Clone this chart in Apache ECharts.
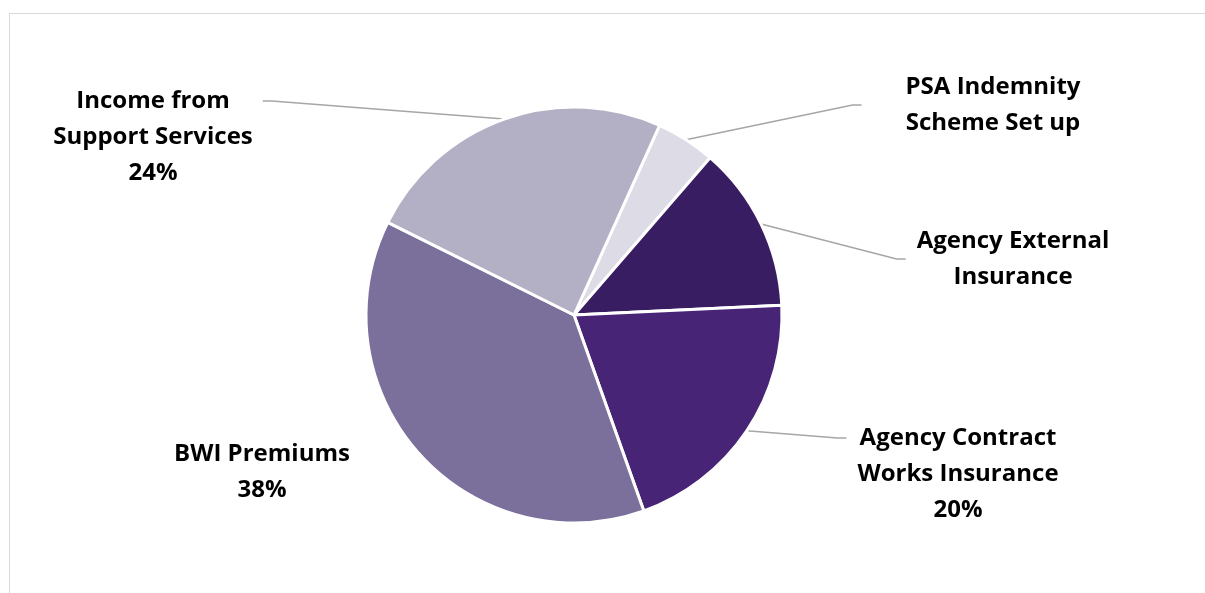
<!DOCTYPE html>
<html>
<head>
<meta charset="utf-8">
<script src="https://cdn.jsdelivr.net/npm/echarts@6/dist/echarts.min.js"></script>
<style>
  html, body { margin: 0; padding: 0; background: #fff; }
  #frame { position: absolute; left: 9px; top: 13px; width: 1196px; height: 580px;
           border-left: 1px solid #d9d9d9; border-top: 1px solid #d9d9d9; }
  #chart { position: absolute; left: 0; top: 0; width: 1205px; height: 593px; }
</style>
</head>
<body>
<div id="frame"></div>
<div id="chart"></div>
<script>
// slices, clockwise from the PSA slice
const categories = [
  'PSA Indemnity\nScheme Set up',
  'Agency External\nInsurance',
  'Agency Contract\nWorks Insurance',
  'BWI Premiums',
  'Income from\nSupport Services'
]
const shares = [4.6, 12.9, 20.3, 37.8, 24.4]
const showPercent = [false, false, true, true, true]
const colors = ['#dddbe6', '#391d62', '#472476', '#7b6f9b', '#b3afc5']

// where each label block sits (centre), leader line on/off and gap to the text
const labelSpots = [[993, 105], [1013, 259], [958, 474], [262, 472], [153, 137]]
const leader = [true, true, true, false, true]
const leaderGap = [44, 11, 11, 0, 10]
const LINE_H = 36

const chart = echarts.init(document.getElementById('chart'))

const option = {
  animation: false,
  series: [{
    type: 'pie',
    center: [574, 315],
    radius: 208,
    startAngle: 65.7,
    clockwise: true,
    percentPrecision: 0,
    itemStyle: {
      borderColor: '#fff',
      borderWidth: 3
    },
    label: {
      show: true,
      position: 'outside',
      fontFamily: 'Open Sans',
      fontWeight: 'bold',
      fontSize: 24,
      lineHeight: LINE_H,
      color: '#000',
      align: 'center',
      formatter: function(p) {
        return showPercent[p.dataIndex] ? p.name + '\n' + p.percent + '%' : p.name
      }
    },
    labelLine: {
      show: true,
      length: 20,
      length2: 10,
      lineStyle: { color: '#a6a6a6', width: 1.5 }
    },
    labelLayout: function(params) {
      const i = params.dataIndex
      const spot = labelSpots[i]
      const out = {
        x: spot[0],
        y: spot[1],
        align: 'center',
        verticalAlign: 'middle'
      }
      if (leader[i] && params.labelLinePoints) {
        const start = params.labelLinePoints[0]
        const lines = params.text.split('\n').length
        const right = spot[0] > 574
        const side = right ? -1 : 1
        const endX = spot[0] + side * (params.labelRect.width / 2 + leaderGap[i])
        const endY = spot[1] - Math.max(0, lines - 2) * LINE_H
        out.labelLinePoints = [
          [start[0], start[1]],
          [endX + side * 9, endY],
          [endX, endY]
        ]
      }
      return out
    },
    emphasis: { disabled: true },
    data: categories.map(function(name, i) {
      return {
        name: name,
        value: shares[i],
        itemStyle: { color: colors[i] },
        labelLine: { show: leader[i] }
      }
    })
  }]
}

chart.setOption(option)
</script>
</body>
</html>
